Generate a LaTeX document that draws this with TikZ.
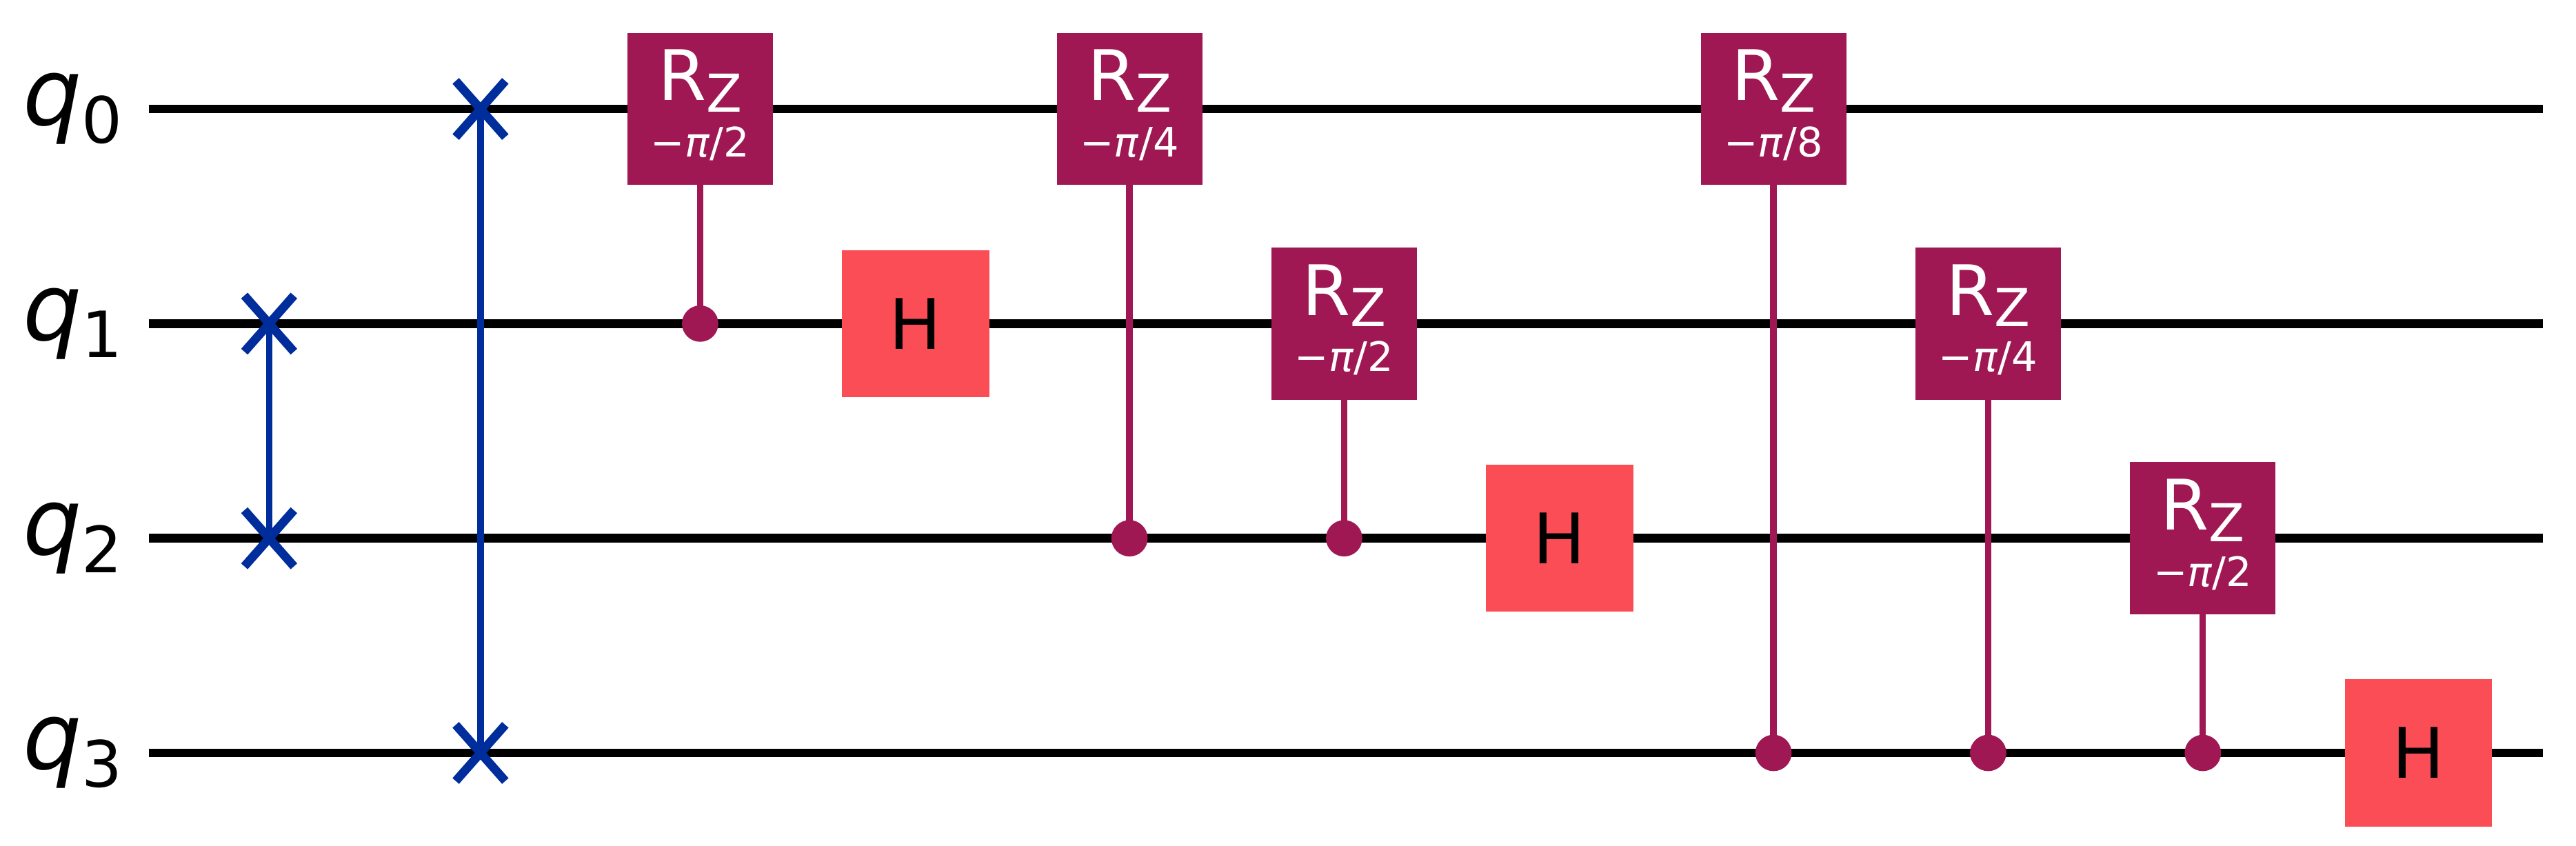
\documentclass[tikz,border=0pt]{standalone}
\usepackage{fontspec}
\setmainfont{DejaVu Sans}
\begin{document}
\definecolor{rz}{HTML}{9F1853}
\definecolor{hg}{HTML}{FA4D56}
\definecolor{sw}{HTML}{002D9C}
\begin{tikzpicture}[x=0.01cm,y=-0.01cm,
  wire/.style={line width=1.5pt,black},
  swl/.style={line width=1.1pt,sw},
  ctl/.style={line width=1.1pt,rz},
  rzb/.style={fill=rz,minimum width=0.88cm,minimum height=0.92cm,inner sep=0pt,text=white},
  hb/.style={fill=hg,minimum width=0.89cm,minimum height=0.89cm,inner sep=0pt,font=\fontsize{12}{12}\selectfont},
  dot/.style={circle,fill=rz,inner sep=0pt,minimum size=0.22cm},
  lab/.style={font=\fontsize{16}{16}\selectfont}]
\useasboundingbox (0,0) rectangle (1560,512.3);
\foreach \i/\y in {0/66,1/196,2/326,3/456}{
  \coordinate (w\i s) at (90,\y);
  \coordinate (w\i e) at (1540,\y);
  \draw[wire] (w\i s) -- (w\i e);
  \node[lab] (l\i) at (44,\y) {\textit{q}\raisebox{-0.35ex}{\fontsize{11}{11}\selectfont \i}};
}
% swaps
\foreach \n/\x/\y in {a/163/196,b/163/326,c/291/66,d/291/456}{
  \coordinate (s\n) at (\x,\y);
  \draw[swl,line width=1.5pt] (\x-15,\y-17) -- (\x+15,\y+17) (\x-15,\y+17) -- (\x+15,\y-17);
}
\draw[swl] (sa) -- (sb);
\draw[swl] (sc) -- (sd);
% controlled Rz
\foreach \n/\x/\ty/\cy/\a in {r1/424/66/196/2,r2/684/66/326/4,r3/814/196/326/2,r4/1074/66/456/8,r5/1204/196/456/4,r6/1334/326/456/2}{
  \node[dot] (\n c) at (\x,\cy) {};
  \draw[ctl] (\x,\ty) -- (\n c.center);
  \node[rzb] (\n) at (\x,\ty) {};
  \node[text=white,font=\fontsize{12}{12}\selectfont,inner sep=1pt] at (\x,\ty-17) {R\raisebox{-0.3ex}{\fontsize{9}{9}\selectfont Z}};
  \node[text=white,font=\fontsize{7}{7}\selectfont,inner sep=1pt] at (\x,\ty+21) {−\textit{π}/\a};
}
\node[hb] (h1) at (554.5,196) {H};
\node[hb] (h2) at (944.5,326) {H};
\node[hb] (h3) at (1464.5,456) {H};
\end{tikzpicture}
\end{document}
